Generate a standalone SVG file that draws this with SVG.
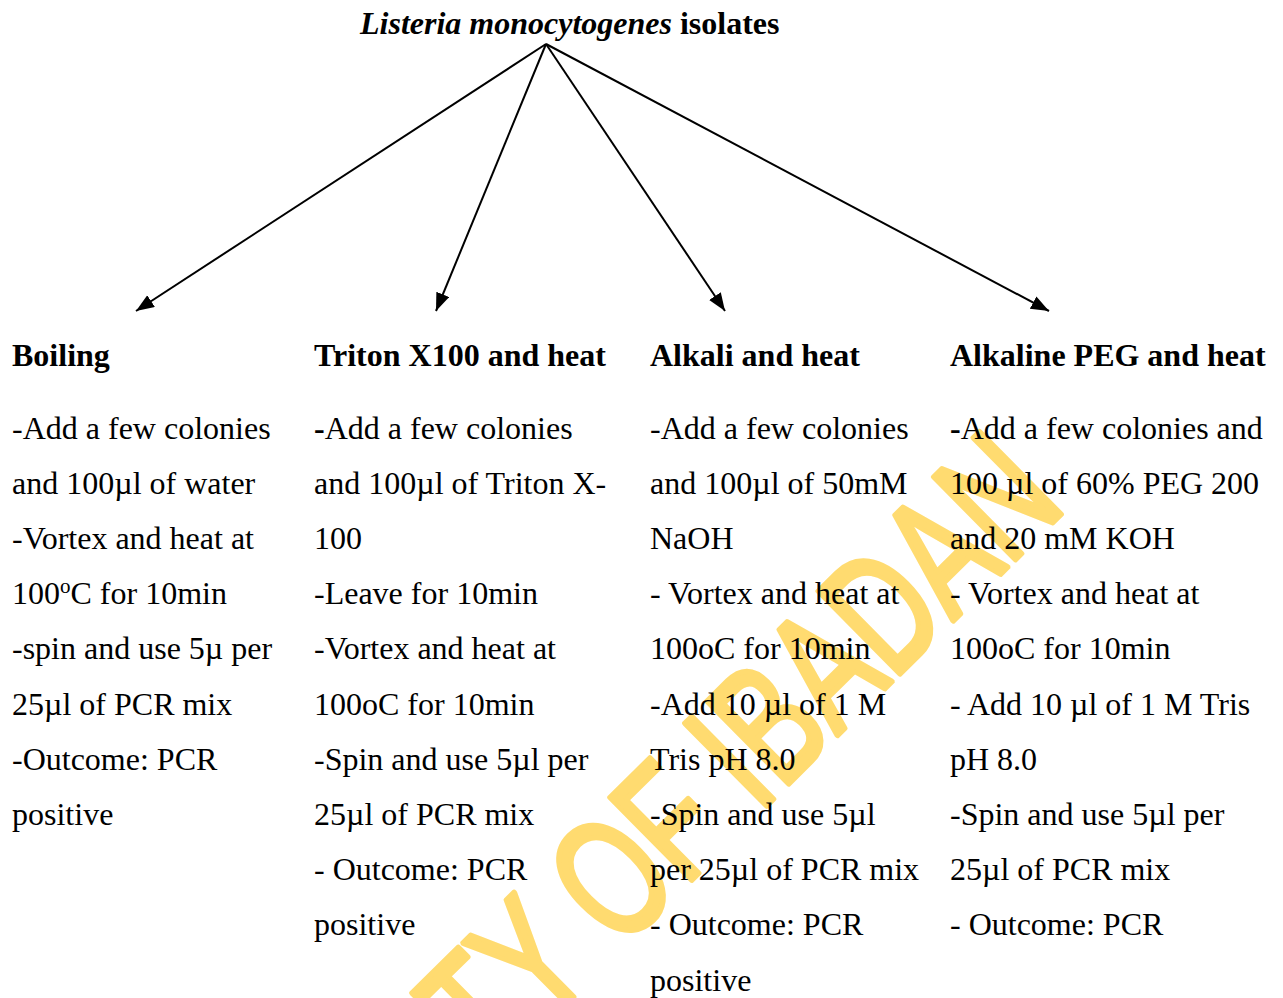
<svg xmlns="http://www.w3.org/2000/svg" width="1283" height="998" viewBox="0 0 1283 998">
  <defs>
    <style>
      .t { font-family: "Liberation Serif", "Times New Roman", serif; font-size: 32px; fill: #000; }
      .h { font-family: "Liberation Serif", "Times New Roman", serif; font-size: 32px; font-weight: bold; fill: #000; }
      .b { font-weight: bold; }
      .wm { font-family: "Liberation Sans", Arial, sans-serif; font-size: 168px; fill: #FFDB70; stroke: #FFDB70; stroke-width: 6; stroke-linejoin: round; }
      .conn { stroke: #000; stroke-width: 2; fill: none; }
    </style>
    <marker id="arrow" markerUnits="userSpaceOnUse" markerWidth="20" markerHeight="16" refX="18" refY="7" orient="auto">
      <path d="M0,0 L18,7 L0,14 z" fill="#000"/>
    </marker>
  </defs>
  <rect width="1283" height="998" fill="#fff"/>

  <g id="watermark">
    <text class="wm" x="98" y="1467" textLength="1365" lengthAdjust="spacingAndGlyphs" transform="rotate(-44.7 98 1467)">UNIVERSITY OF IBADAN</text>
  </g>

  <g id="title">
    <text class="h" x="360" y="34"><tspan font-style="italic">Listeria monocytogenes</tspan> isolates</text>
  </g>

  <g id="connectors">
    <line class="conn" x1="546" y1="44" x2="136" y2="311" marker-end="url(#arrow)"/>
    <line class="conn" x1="546" y1="44" x2="436" y2="311" marker-end="url(#arrow)"/>
    <line class="conn" x1="546" y1="44" x2="725" y2="311" marker-end="url(#arrow)"/>
    <line class="conn" x1="546" y1="44" x2="1049" y2="311" marker-end="url(#arrow)"/>
  </g>

  <g id="boiling">
    <text class="h" x="12" y="366">Boiling</text>
    <text class="t" x="12" y="438.5">-Add a few colonies</text>
    <text class="t" x="12" y="493.7">and 100µl of water</text>
    <text class="t" x="12" y="548.9">-Vortex and heat at</text>
    <text class="t" x="12" y="604.1">100<tspan dy="-11" font-size="21">o</tspan><tspan dy="11">C for 10min</tspan></text>
    <text class="t" x="12" y="659.3">-spin and use 5µ per</text>
    <text class="t" x="12" y="714.5">25µl of PCR mix</text>
    <text class="t" x="12" y="769.7">-Outcome: PCR</text>
    <text class="t" x="12" y="824.9">positive</text>
  </g>

  <g id="triton">
    <text class="h" x="314" y="366">Triton X100 and heat</text>
    <text class="t" x="314" y="438.5"><tspan class="b">-</tspan>Add a few colonies</text>
    <text class="t" x="314" y="493.7">and 100µl of Triton X-</text>
    <text class="t" x="314" y="548.9">100</text>
    <text class="t" x="314" y="604.1">-Leave for 10min</text>
    <text class="t" x="314" y="659.3">-Vortex and heat at</text>
    <text class="t" x="314" y="714.5">100oC for 10min</text>
    <text class="t" x="314" y="769.7">-Spin and use 5µl per</text>
    <text class="t" x="314" y="824.9">25µl of PCR mix</text>
    <text class="t" x="314" y="880.1">- Outcome: PCR</text>
    <text class="t" x="314" y="935.3">positive</text>
  </g>

  <g id="alkali">
    <text class="h" x="650" y="366">Alkali and heat</text>
    <text class="t" x="650" y="438.5">-Add a few colonies</text>
    <text class="t" x="650" y="493.7">and 100µl of 50mM</text>
    <text class="t" x="650" y="548.9">NaOH</text>
    <text class="t" x="650" y="604.1">- Vortex and heat at</text>
    <text class="t" x="650" y="659.3">100oC for 10min</text>
    <text class="t" x="650" y="714.5">-Add 10 µl of 1 M</text>
    <text class="t" x="650" y="769.7">Tris pH 8.0</text>
    <text class="t" x="650" y="824.9">-Spin and use 5µl</text>
    <text class="t" x="650" y="880.1">per 25µl of PCR mix</text>
    <text class="t" x="650" y="935.3">- Outcome: PCR</text>
    <text class="t" x="650" y="990.5">positive</text>
  </g>

  <g id="alkaline-peg">
    <text class="h" x="950" y="366">Alkaline PEG and heat</text>
    <text class="t" x="950" y="438.5"><tspan class="b">-</tspan>Add a few colonies and</text>
    <text class="t" x="950" y="493.7">100 µl of 60% PEG 200</text>
    <text class="t" x="950" y="548.9">and 20 mM KOH</text>
    <text class="t" x="950" y="604.1">- Vortex and heat at</text>
    <text class="t" x="950" y="659.3">100oC for 10min</text>
    <text class="t" x="950" y="714.5">- Add 10 µl of 1 M Tris</text>
    <text class="t" x="950" y="769.7">pH 8.0</text>
    <text class="t" x="950" y="824.9">-Spin and use 5µl per</text>
    <text class="t" x="950" y="880.1">25µl of PCR mix</text>
    <text class="t" x="950" y="935.3">- Outcome: PCR</text>
  </g>
</svg>
